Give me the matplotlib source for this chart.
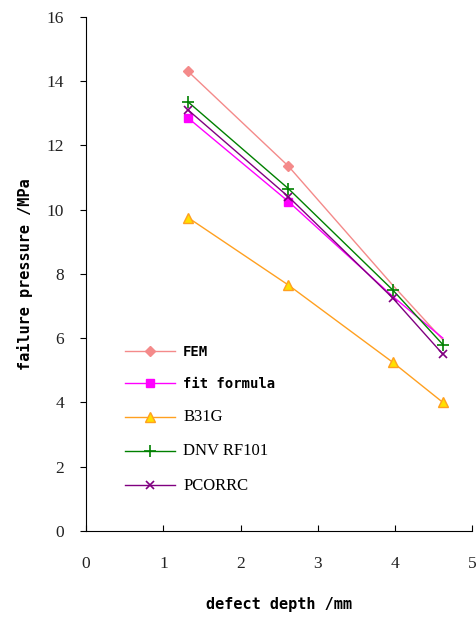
import matplotlib
matplotlib.use("Agg")
import matplotlib.pyplot as plt

# defect depth (mm) and failure pressure (MPa)
depth = [1.32, 2.62, 3.97, 4.62]
fem = [14.3, 11.35, 7.65, 5.95]
fit_formula = [12.85, 10.25, 7.3, 6.0]
b31g = [9.75, 7.65, 5.25, 4.0]
dnv = [13.35, 10.65, 7.5, 5.8]
pcorrc = [13.1, 10.4, 7.25, 5.5]

fig = plt.figure(figsize=(4.76, 6.21), dpi=100)
ax = fig.add_axes([0.181, 0.145, 0.811, 0.828])

ax.plot(depth, fem, color="#f48a8a", lw=1, marker="D", ms=5, mfc="#f48a8a", mec="#f48a8a",
        markevery=[0, 1], label="FEM")
ax.plot(depth, fit_formula, color="#ff00ff", lw=1, marker="s", ms=6, mfc="#ff00ff", mec="#ff00ff",
        markevery=[0, 1], label="fit formula")
ax.plot(depth, b31g, color="#ffa020", lw=1, marker="^", ms=7, mfc="#ffe000", mec="#ffa020",
        label="B31G")
ax.plot(depth, dnv, color="#008000", lw=1, marker="+", ms=9, mew=1.2, label="DNV RF101")
ax.plot(depth, pcorrc, color="#800080", lw=1, marker="x", ms=6, mew=1.2, label="PCORRC")

ax.set_xlim(0, 5)
ax.set_ylim(0, 16)
ax.set_xticks(range(0, 6))
ax.set_yticks(range(0, 17, 2))
ax.spines["top"].set_visible(False)
ax.spines["right"].set_visible(False)
ax.tick_params(axis="x", direction="in", length=4, pad=18, labelsize=12.5)
ax.tick_params(axis="y", direction="out", length=4, pad=12, labelsize=12.5)
for t in ax.get_xticklabels() + ax.get_yticklabels():
    t.set_family("Liberation Serif")
    t.set_color("#222222")

ax.set_xlabel("defect depth /mm", family="DejaVu Sans Mono", weight="bold", fontsize=11, labelpad=18)
ax.set_ylabel("failure pressure /MPa", family="DejaVu Sans Mono", weight="bold", fontsize=11, labelpad=10)

leg = ax.legend(loc="lower left", bbox_to_anchor=(0.086, 0.062), frameon=False, fontsize=10,
                handlelength=3.6, handletextpad=0.6, labelspacing=1.3, borderaxespad=0)
for i, t in enumerate(leg.get_texts()):
    if i < 2:
        t.set_family("DejaVu Sans Mono")
        t.set_weight("bold")
    else:
        t.set_family("Liberation Serif")
        t.set_fontsize(12)

fig.savefig("out.png", dpi=100)
